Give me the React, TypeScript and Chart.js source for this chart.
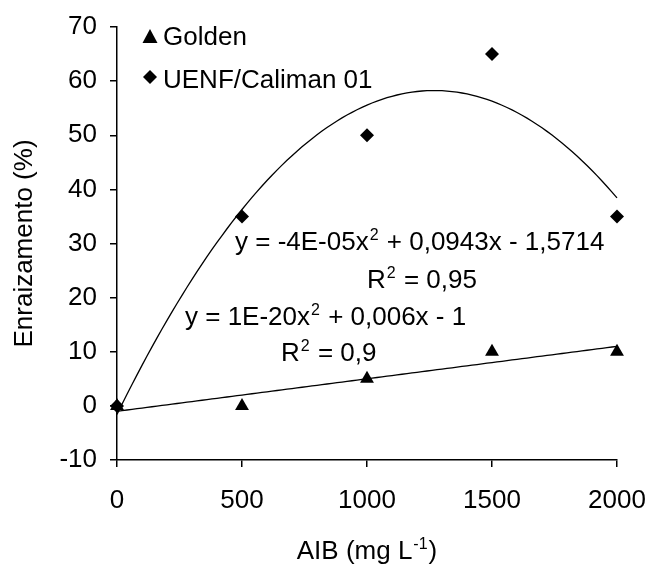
import React, { useEffect, useRef } from 'react';
import { Chart, registerables } from 'chart.js';

Chart.register(...registerables);

// ---- data ----
const doses = [0, 500, 1000, 1500, 2000];
const goldenValues = [0, 0, 5, 10, 10];
const uenfValues = [0, 35, 50, 65, 35];
const seriesNames = ['Golden', 'UENF/Caliman 01'];
const xTickValues = [0, 500, 1000, 1500, 2000];
const yTickMin = -10;
const yTickMax = 70;
const yTickStep = 10;
const eqUenf = ['y = -4E-05x', '2', ' + 0,0943x - 1,5714'];
const r2Uenf = ['R', '2', ' = 0,95'];
const eqGolden = ['y = 1E-20x', '2', ' + 0,006x - 1'];
const r2Golden = ['R', '2', ' = 0,9'];
const xTitleParts = ['AIB (mg L', '-1', ')'];
const yTitleText = 'Enraizamento (%)';

const FONT = '"Liberation Sans", Arial, sans-serif';
const FS = 26;

// quadratic least-squares trend (as the spreadsheet's polynomial trendline)
function quadFit(xs: number[], ys: number[]) {
  const s = [0, 0, 0, 0, 0];
  const t = [0, 0, 0];
  for (let i = 0; i < xs.length; i++) {
    let p = 1;
    for (let k = 0; k < 5; k++) {
      s[k] += p;
      if (k < 3) t[k] += p * ys[i];
      p *= xs[i];
    }
  }
  const A = [
    [s[0], s[1], s[2], t[0]],
    [s[1], s[2], s[3], t[1]],
    [s[2], s[3], s[4], t[2]],
  ];
  for (let c = 0; c < 3; c++) {
    let piv = c;
    for (let r = c + 1; r < 3; r++) if (Math.abs(A[r][c]) > Math.abs(A[piv][c])) piv = r;
    [A[c], A[piv]] = [A[piv], A[c]];
    for (let r = 0; r < 3; r++) {
      if (r === c) continue;
      const f = A[r][c] / A[c][c];
      for (let k = c; k < 4; k++) A[r][k] -= f * A[c][k];
    }
  }
  const a0 = A[0][3] / A[0][0];
  const a1 = A[1][3] / A[1][1];
  const a2 = A[2][3] / A[2][2];
  return (x: number) => a0 + a1 * x + a2 * x * x;
}

function trendPoints(xs: number[], ys: number[]) {
  const f = quadFit(xs, ys);
  const lo = xs[0];
  const hi = xs[xs.length - 1];
  const pts: { x: number; y: number }[] = [];
  const n = 100;
  for (let i = 0; i <= n; i++) {
    const x = lo + ((hi - lo) * i) / n;
    pts.push({ x, y: f(x) });
  }
  return pts;
}

function drawSup(ctx: CanvasRenderingContext2D, parts: string[], x: number, base: number, measureOnly = false) {
  let cx = x;
  ctx.font = `${FS}px ${FONT}`;
  if (!measureOnly) ctx.fillText(parts[0], cx, base);
  cx += ctx.measureText(parts[0]).width;
  ctx.font = `${Math.round(FS * 0.62)}px ${FONT}`;
  if (!measureOnly) ctx.fillText(parts[1], cx + 1, base - FS * 0.4);
  cx += ctx.measureText(parts[1]).width + 2;
  ctx.font = `${FS}px ${FONT}`;
  if (!measureOnly) ctx.fillText(parts[2], cx, base);
  cx += ctx.measureText(parts[2]).width;
  return cx - x;
}

const annotationPlugin = {
  id: 'annotations',
  afterDraw(chart: any) {
    const ctx: CanvasRenderingContext2D = chart.ctx;
    const area = chart.chartArea;
    ctx.save();
    ctx.fillStyle = '#000';
    ctx.textAlign = 'left';
    ctx.textBaseline = 'alphabetic';

    // legend
    const lx = 150;
    ctx.beginPath();
    ctx.moveTo(lx, 29);
    ctx.lineTo(lx + 7.5, 43);
    ctx.lineTo(lx - 7.5, 43);
    ctx.closePath();
    ctx.fill();
    ctx.font = `${FS}px ${FONT}`;
    ctx.fillText(seriesNames[0], 163, 45);
    ctx.beginPath();
    ctx.moveTo(lx, 70);
    ctx.lineTo(lx + 7, 77);
    ctx.lineTo(lx, 84);
    ctx.lineTo(lx - 7, 77);
    ctx.closePath();
    ctx.fill();
    ctx.fillText(seriesNames[1], 163, 88);

    // equations
    drawSup(ctx, eqUenf, 235, 250);
    drawSup(ctx, r2Uenf, 367, 288);
    drawSup(ctx, eqGolden, 185, 325);
    drawSup(ctx, r2Golden, 281, 361);

    // x title
    const w = drawSup(ctx, xTitleParts, 0, 0, true);
    const cx = (area.left + area.right) / 2;
    drawSup(ctx, xTitleParts, cx - w / 2, 559);

    // y title
    ctx.save();
    ctx.translate(25, (area.top + area.bottom) / 2);
    ctx.rotate(-Math.PI / 2);
    ctx.textAlign = 'center';
    ctx.textBaseline = 'middle';
    ctx.font = `${FS}px ${FONT}`;
    ctx.fillText(yTitleText, 0, 0);
    ctx.restore();

    ctx.restore();
  },
};

export default function App() {
  const ref = useRef<HTMLCanvasElement>(null);
  useEffect(() => {
    if (!ref.current) return;
    const goldenPts = doses.map((x, i) => ({ x, y: goldenValues[i] }));
    const uenfPts = doses.map((x, i) => ({ x, y: uenfValues[i] }));
    const chart = new Chart(ref.current, {
      type: 'scatter',
      data: {
        datasets: [
          {
            label: seriesNames[0] + ' trend',
            data: trendPoints(doses, goldenValues),
            showLine: true,
            pointRadius: 0,
            borderColor: '#000',
            borderWidth: 1.3,
            fill: false,
            clip: false as any,
          },
          {
            label: seriesNames[1] + ' trend',
            data: trendPoints(doses, uenfValues),
            showLine: true,
            pointRadius: 0,
            borderColor: '#000',
            borderWidth: 1.3,
            fill: false,
            clip: false as any,
          },
          {
            label: seriesNames[0],
            data: goldenPts,
            showLine: false,
            pointStyle: 'triangle',
            pointRadius: 8,
            backgroundColor: '#000',
            borderColor: '#000',
            borderWidth: 0,
            clip: false as any,
          },
          {
            label: seriesNames[1],
            data: uenfPts,
            showLine: false,
            pointStyle: 'rectRot',
            pointRadius: 7,
            backgroundColor: '#000',
            borderColor: '#000',
            borderWidth: 0,
            clip: false as any,
          },
        ],
      },
      options: {
        animation: false,
        responsive: false,
        layout: { padding: { top: 27, right: 32, left: 0, bottom: 0 } },
        plugins: {
          legend: { display: false },
          tooltip: { enabled: false },
          title: { display: false },
        },
        scales: {
          x: {
            type: 'linear',
            min: xTickValues[0],
            max: xTickValues[xTickValues.length - 1],
            afterBuildTicks: (s: any) => {
              s.ticks = xTickValues.map((v) => ({ value: v }));
            },
            afterFit: (s: any) => {
              s.height = 569 - 460;
              s.paddingLeft = 0;
              s.paddingRight = 0;
            },
            ticks: {
              color: '#000',
              font: { family: FONT, size: FS },
              padding: 18,
              maxRotation: 0,
              callback: (v: any) => String(v),
            },
            border: { display: true, color: '#000', width: 1.5 },
            grid: {
              display: true,
              drawOnChartArea: false,
              drawTicks: true,
              tickLength: 7,
              color: '#000',
              lineWidth: 1.5,
            },
          },
          y: {
            type: 'linear',
            min: yTickMin,
            max: yTickMax,
            ticks: {
              stepSize: yTickStep,
              color: '#000',
              font: { family: FONT, size: FS },
              padding: 13,
              callback: (v: any) => String(v),
            },
            afterFit: (s: any) => {
              s.width = 117;
              s.paddingTop = 0;
              s.paddingBottom = 0;
            },
            border: { display: true, color: '#000', width: 1.5 },
            grid: {
              display: true,
              drawOnChartArea: false,
              drawTicks: true,
              tickLength: 7,
              color: '#000',
              lineWidth: 1.5,
            },
          },
        },
      } as any,
      plugins: [annotationPlugin],
    });
    return () => chart.destroy();
  }, []);

  return (
    <div style={{ position: 'fixed', left: 0, top: 0, width: 649, height: 569, background: '#fff' }}>
      <canvas ref={ref} width={649} height={569} style={{ display: 'block' }} />
    </div>
  );
}
